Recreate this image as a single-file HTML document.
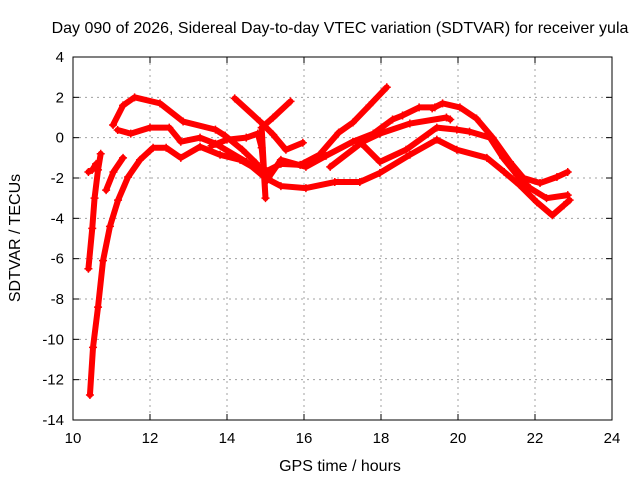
<!DOCTYPE html>
<html><head><meta charset="utf-8"><style>
body{margin:0;background:#fff}
svg text{font-family:"Liberation Sans",sans-serif;font-size:15px;fill:#000}
</style></head><body>
<svg id="chart" width="640" height="480" xmlns="http://www.w3.org/2000/svg">
<text x="340" y="33" text-anchor="middle" style="font-size:16px">Day 090 of 2026, Sidereal Day-to-day VTEC variation (SDTVAR) for receiver yula</text>
<text x="340" y="471" text-anchor="middle" style="font-size:16px">GPS time / hours</text>
<text transform="translate(20,238) rotate(-90)" text-anchor="middle" style="font-size:16px">SDTVAR / TECUs</text>
<g id="grid"></g><g id="series"></g>
<rect x="73" y="57" width="539" height="363" fill="none" stroke="#000" stroke-width="1"/>
<g id="ticks"></g>
</svg>
<script>
const xTicks=[10,12,14,16,18,20,22,24];
const yTicks=[4,2,0,-2,-4,-6,-8,-10,-12,-14];
const sA_t=[11.04,11.3,11.6,12.26,12.86,13.7,13.95,14.4,14.75,15.0];
const sA_v=[0.63,1.6,2.0,1.7,0.8,0.4,0.1,-0.6,-1.25,-1.9];
const sB_t=[11.16,11.5,12.0,12.5,12.8,13.3,13.7,14.5,15.0,15.4,16.05,16.8,17.45,17.97,18.75,19.45,19.97,20.75,21.2,21.6,22.05,22.45,22.75,22.9];
const sB_v=[0.38,0.2,0.5,0.5,-0.2,0,-0.3,-1.2,-2.0,-2.4,-2.5,-2.2,-2.2,-1.75,-0.85,-0.1,-0.6,-1.0,-1.7,-2.35,-3.2,-3.85,-3.35,-3.1];
const sC_t=[10.44,10.52,10.65,10.78,10.96,11.17,11.43,11.74,12.08,12.42,12.8,13.3,13.82,14.34,14.94,15.4,15.9,16.4,16.9,17.27,17.7,18.15];
const sC_v=[-12.76,-10.4,-8.4,-6.1,-4.4,-3.1,-1.95,-1.1,-0.5,-0.5,-1.0,-0.45,-0.85,-1.1,-1.75,-1.3,-1.35,-0.85,0.25,0.75,1.6,2.5];
const sD_t=[10.4,10.5,10.56,10.65,10.72];
const sD_v=[-6.5,-4.5,-3.0,-1.6,-0.8];
const sE_t=[10.4,10.5,10.6];
const sE_v=[-1.7,-1.6,-1.3];
const sF_t=[10.86,11.05,11.3];
const sF_v=[-2.6,-1.7,-1.0];
const sG_t=[14.2,14.86,15.2,15.53,15.97];
const sG_v=[1.95,0.8,0.15,-0.6,-0.25];
const sH_t=[13.6,14.0,14.5,14.8,14.9,14.95,15.0,14.9,15.2,15.65];
const sH_v=[-0.4,-0.1,0.0,0.2,-0.5,-1.5,-3.0,0.5,1.0,1.8];
const sI_t=[15.0,15.4,16.05,16.57,17.27,17.8,18.3,18.56,18.99,19.4];
const sI_v=[-2.2,-1.1,-1.45,-0.9,-0.2,0.2,0.9,1.1,1.5,1.5];
const sJ_t=[16.68,17.53,17.97,18.75,19.7,19.8];
const sJ_v=[-1.45,-0.2,0.2,0.7,1.0,0.9];
const sK_t=[17.5,17.97,18.65,19.45,19.97,20.3,20.83,21.17,21.53,21.87,22.3,22.85];
const sK_v=[-0.3,-1.2,-0.6,0.5,0.4,0.3,0,-1.0,-1.85,-2.5,-3.0,-2.85];
const sL_t=[19.33,19.6,20.05,20.48,20.9,21.35,21.7,22.13,22.57,22.85];
const sL_v=[1.45,1.7,1.5,0.95,0,-1.2,-2.0,-2.25,-1.95,-1.7];
const seriesT=[sA_t,sB_t,sC_t,sD_t,sE_t,sF_t,sG_t,sH_t,sI_t,sJ_t,sK_t,sL_t];
const seriesV=[sA_v,sB_v,sC_v,sD_v,sE_v,sF_v,sG_v,sH_v,sI_v,sJ_v,sK_v,sL_v];
const X0=73,X1=612,Y0=57,Y1=420;
function xs(h){return X0+(h-10)/(24-10)*(X1-X0);}
function ys(v){return Y0+(4-v)/(4-(-14))*(Y1-Y0);}
const NS="http://www.w3.org/2000/svg";
const grid=document.getElementById('grid'),ticks=document.getElementById('ticks'),ser=document.getElementById('series');
function mk(tag,attrs,parent){const e=document.createElementNS(NS,tag);for(const k in attrs)e.setAttribute(k,attrs[k]);parent.appendChild(e);return e;}
xTicks.forEach(t=>{const x=xs(t);
 if(t>10&&t<24){const g=mk('line',{x1:x,x2:x,y1:Y0,y2:Y1,stroke:'#a0a0a0','stroke-dasharray':'2,4'},grid);
 
 }
 mk('line',{x1:x,x2:x,y1:Y1,y2:Y1-6,stroke:'#000'},ticks);mk('line',{x1:x,x2:x,y1:Y0,y2:Y0+6,stroke:'#000'},ticks);
 const l=mk('text',{x:x,y:Y1+23,'text-anchor':'middle'},ticks);l.textContent=t;
 
 });
yTicks.forEach(t=>{const y=ys(t);
 if(t<4&&t>-14){const g=mk('line',{x1:X0,x2:X1,y1:y,y2:y,stroke:'#a0a0a0','stroke-dasharray':'2,4'},grid);
 
 }
 mk('line',{x1:X0,x2:X0+6,y1:y,y2:y,stroke:'#000'},ticks);mk('line',{x1:X1,x2:X1-6,y1:y,y2:y,stroke:'#000'},ticks);
 const l=mk('text',{x:X0-9,y:y+5,'text-anchor':'end'},ticks);l.textContent=t;
 
 });
seriesT.forEach((T,i)=>{const V=seriesV[i];
 const pts=T.map((t,j)=>xs(t)+','+ys(V[j])).join(' ');
 const pl=mk('polyline',{points:pts,fill:'none',stroke:'#ff0000','stroke-width':6,'stroke-linejoin':'round','stroke-linecap':'round'},ser);
 
 
 T.forEach((t,j)=>{const x=xs(t),y=ys(V[j]);
  const m=mk('path',{d:`M${x-4},${y}h8M${x},${y-4}v8`,stroke:'#ff0000','stroke-width':1.5},ser);
  
  });});
</script>
</body></html>
